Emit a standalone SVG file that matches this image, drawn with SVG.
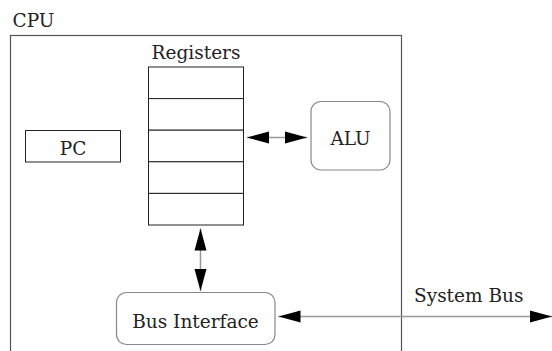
<svg xmlns="http://www.w3.org/2000/svg" width="552" height="351" viewBox="0 0 552 351">
<style>
text{font-family:"DejaVu Serif","Liberation Serif",serif;font-size:18.5px;fill:#222}
.box{fill:#fff;stroke:#222;stroke-width:1}
.rbox{fill:#fff;stroke:#888;stroke-width:1.2}
.conn{stroke:#999;stroke-width:1.5;fill:none;marker-start:url(#ah);marker-end:url(#ah)}
</style>
<defs>
<marker id="ah" markerUnits="userSpaceOnUse" markerWidth="24" markerHeight="16" viewBox="-1 -8 24 16" refX="22" refY="0" orient="auto-start-reverse">
<path d="M0,-6 L22,0 L0,6 z" fill="#000"/>
</marker>
</defs>
<g id="cpu">
<rect x="10.5" y="35.5" width="391" height="340" fill="none" stroke="#555" stroke-width="1.2"/>
<text x="12.5" y="26.5">CPU</text>
</g>
<g id="registers">
<text x="196" y="59" text-anchor="middle">Registers</text>
<rect class="box" x="148.5" y="67" width="95" height="31.6"/>
<rect class="box" x="148.5" y="98.6" width="95" height="31.6"/>
<rect class="box" x="148.5" y="130.2" width="95" height="31.6"/>
<rect class="box" x="148.5" y="161.8" width="95" height="31.6"/>
<rect class="box" x="148.5" y="193.4" width="95" height="31.6"/>
</g>
<g id="pc">
<rect class="box" x="25.5" y="130.5" width="95" height="31.5"/>
<text x="73" y="155" text-anchor="middle">PC</text>
</g>
<g id="alu">
<rect class="rbox" x="311" y="101.5" width="79" height="68.5" rx="10"/>
<text x="350.5" y="145" text-anchor="middle">ALU</text>
</g>
<g id="bus-interface">
<rect class="rbox" x="116.5" y="292.5" width="158.5" height="52" rx="10"/>
<text x="195.5" y="328" text-anchor="middle">Bus Interface</text>
</g>
<g id="system-bus-label">
<text x="414" y="301.5">System Bus</text>
</g>
<g id="connectors">
<line class="conn" x1="247" y1="137.5" x2="307" y2="137.5"/>
<line class="conn" x1="200.5" y1="228.5" x2="200.5" y2="291"/>
<line class="conn" x1="278.5" y1="316.5" x2="552" y2="316.5"/>
</g>
</svg>
